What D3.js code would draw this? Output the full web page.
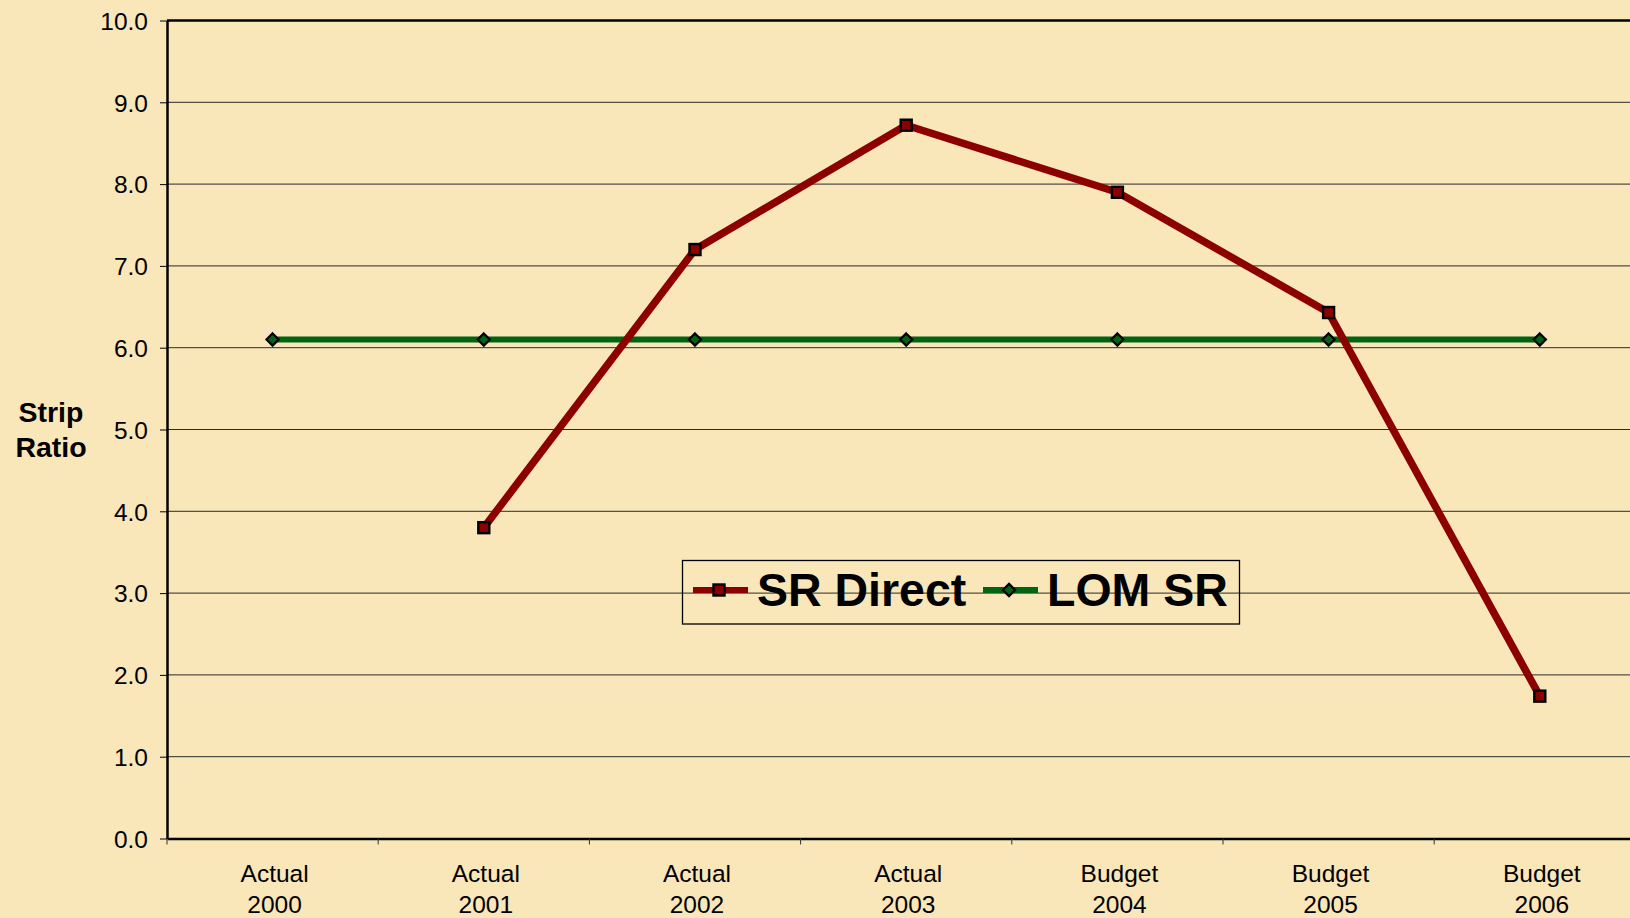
<!DOCTYPE html>
<html>
<head>
<meta charset="utf-8">
<script src="https://cdn.jsdelivr.net/npm/d3@7"></script>
<style>
  html, body { margin: 0; padding: 0; background: #f9e6b9; }
  svg { display: block; }
</style>
</head>
<body>
<div id="chart"></div>
<script>
// categories and series values
const categories = [['Actual', '2000'], ['Actual', '2001'], ['Actual', '2002'], ['Actual', '2003'],
  ['Budget', '2004'], ['Budget', '2005'], ['Budget', '2006']]
const srDirect = [null, 3.8, 7.2, 8.72, 7.9, 6.43, 1.74]
const lomSR = [6.1, 6.1, 6.1, 6.1, 6.1, 6.1, 6.1]
const yTicks = [0, 1, 2, 3, 4, 5, 6, 7, 8, 9, 10]

const width = 1630
const height = 918
const plotLeft = 167
const plotTop = 20.5
const plotBottom = 838.5
const bandW = 211.2

const svg = d3.select('#chart').append('svg')
  .attr('width', width)
  .attr('height', height)
  .style('font-family', '"Liberation Sans", Arial, sans-serif')

svg.append('rect').attr('width', width).attr('height', height).attr('fill', '#f9e6b9')

const keys = categories.map(d => d.join(' '))
const x = d3.scaleBand()
  .domain(keys)
  .range([plotLeft, plotLeft + bandW * keys.length])
const y = d3.scaleLinear().domain([0, 10]).range([plotBottom, plotTop])
const cx = i => x(keys[i]) + x.bandwidth() / 2

// gridlines
svg.append('g')
  .selectAll('line')
  .data(yTicks.filter(d => d > 0 && d < 10))
  .join('line')
  .attr('x1', plotLeft).attr('x2', width)
  .attr('y1', d => y(d)).attr('y2', d => y(d))
  .attr('stroke', '#2b2b2b')
  .attr('stroke-width', 1)

// top border
svg.append('line')
  .attr('x1', plotLeft).attr('x2', width)
  .attr('y1', y(10)).attr('y2', y(10))
  .attr('stroke', '#000').attr('stroke-width', 2.5)

// y axis
const yAxis = svg.append('g')
  .attr('transform', 'translate(' + plotLeft + ',0)')
  .call(d3.axisLeft(y).tickValues(yTicks).tickFormat(d3.format('.1f')).tickSize(7).tickSizeOuter(0))
yAxis.select('.domain').attr('stroke', '#000').attr('stroke-width', 2.5)
yAxis.selectAll('.tick line').attr('stroke', '#000').attr('stroke-width', 1)
yAxis.selectAll('.tick text')
  .attr('x', -19)
  .attr('dy', '0.36em')
  .attr('font-size', 24.5)
  .attr('fill', '#000')

// x axis
const xAxis = svg.append('g')
  .attr('transform', 'translate(0,' + plotBottom + ')')
  .call(d3.axisBottom(x).tickSize(0).tickSizeOuter(0).tickFormat(''))
xAxis.select('.domain').attr('stroke', '#000').attr('stroke-width', 2.5)
xAxis.selectAll('.tick').remove()

svg.append('g')
  .selectAll('line')
  .data(d3.range(keys.length + 1))
  .join('line')
  .attr('x1', i => plotLeft + i * x.step()).attr('x2', i => plotLeft + i * x.step())
  .attr('y1', plotBottom).attr('y2', plotBottom + 6)
  .attr('stroke', '#333').attr('stroke-width', 1)

const xLabels = svg.append('g')
  .selectAll('text')
  .data(categories)
  .join('text')
  .attr('x', (d, i) => cx(i) + 2)
  .attr('y', 882)
  .attr('text-anchor', 'middle')
  .attr('font-size', 24.5)
  .attr('fill', '#000')
xLabels.append('tspan').attr('x', (d, i) => cx(i) + 2).text(d => d[0])
xLabels.append('tspan').attr('x', (d, i) => cx(i) + 2).attr('dy', 31).text(d => d[1])

// y title
const yTitle = svg.append('text')
  .attr('text-anchor', 'middle')
  .attr('font-size', 28.5)
  .attr('font-weight', 'bold')
  .attr('fill', '#000')
yTitle.append('tspan').attr('x', 51).attr('y', 422).text('Strip')
yTitle.append('tspan').attr('x', 51).attr('y', 456.5).text('Ratio')

const redColor = '#8c0000'
const greenColor = '#006414'

const line = d3.line()
  .defined(d => d != null)
  .x((d, i) => cx(i))
  .y(d => y(d))

// LOM SR
svg.append('path')
  .datum(lomSR)
  .attr('d', line)
  .attr('fill', 'none')
  .attr('stroke', greenColor)
  .attr('stroke-width', 6)

// SR Direct
svg.append('path')
  .datum(srDirect)
  .attr('d', line)
  .attr('fill', 'none')
  .attr('stroke', redColor)
  .attr('stroke-width', 7.5)
  .attr('stroke-linejoin', 'round')

const diamond = d3.symbol().type(d3.symbolDiamond2).size(95)

svg.append('g')
  .selectAll('path')
  .data(lomSR)
  .join('path')
  .attr('transform', (d, i) => 'translate(' + cx(i) + ',' + y(d) + ')')
  .attr('d', diamond)
  .attr('fill', greenColor)
  .attr('stroke', '#000')
  .attr('stroke-width', 2.2)

svg.append('g')
  .selectAll('rect')
  .data(srDirect.map((v, i) => ({ v, i })).filter(d => d.v != null))
  .join('rect')
  .attr('x', d => cx(d.i) - 5.5)
  .attr('y', d => y(d.v) - 5.5)
  .attr('width', 11)
  .attr('height', 11)
  .attr('fill', redColor)
  .attr('stroke', '#000')
  .attr('stroke-width', 2.4)

// legend
const legend = svg.append('g')
legend.append('rect')
  .attr('x', 682.5).attr('y', 560.5)
  .attr('width', 557).attr('height', 63.5)
  .attr('fill', 'none')
  .attr('stroke', '#000')
  .attr('stroke-width', 1.3)

const legendItems = [
  { name: 'SR Direct', color: redColor, x0: 693, shape: 'square', tx: 757 },
  { name: 'LOM SR', color: greenColor, x0: 983, shape: 'diamond', tx: 1047 }
]
const ly = 590
legendItems.forEach(d => {
  legend.append('line')
    .attr('x1', d.x0).attr('x2', d.x0 + 55)
    .attr('y1', ly).attr('y2', ly)
    .attr('stroke', d.color).attr('stroke-width', 6)
  if (d.shape === 'square') {
    legend.append('rect')
      .attr('x', d.x0 + 26 - 5.5).attr('y', ly - 5.5)
      .attr('width', 11).attr('height', 11)
      .attr('fill', d.color).attr('stroke', '#000').attr('stroke-width', 2.4)
  } else {
    legend.append('path')
      .attr('transform', 'translate(' + (d.x0 + 26) + ',' + ly + ')')
      .attr('d', diamond)
      .attr('fill', d.color).attr('stroke', '#000').attr('stroke-width', 2.2)
  }
  legend.append('text')
    .attr('x', d.tx).attr('y', 606)
    .attr('font-size', 46.5)
    .attr('font-weight', 'bold')
    .attr('fill', '#000')
    .text(d.name)
})
</script>
</body>
</html>
